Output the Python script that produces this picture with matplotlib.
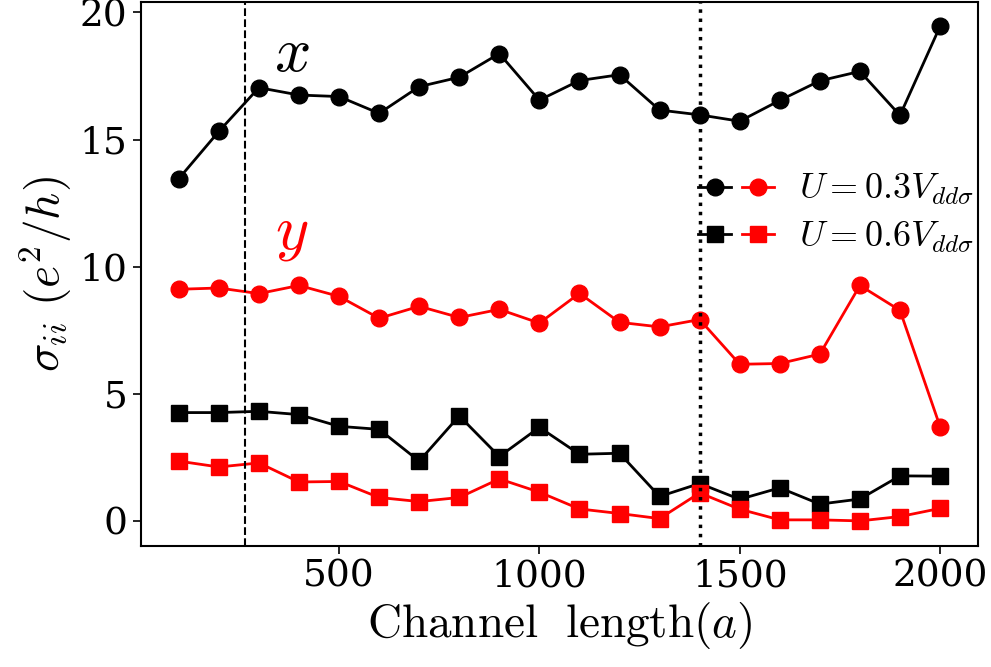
"""sigma_ii vs channel length"""

import numpy as np
import matplotlib
matplotlib.use("Agg")
import matplotlib.pyplot as plt
from matplotlib.legend_handler import HandlerTuple

plt.rcParams["mathtext.fontset"] = "cm"
plt.rcParams["font.family"] = "DejaVu Serif"

length = np.arange(100, 2001, 100)
# U = 0.3 V_dd sigma
sxx_03 = [13.46, 15.32, 17.04, 16.75, 16.69, 16.03, 17.08, 17.45, 18.38, 16.55,
          17.32, 17.55, 16.16, 15.97, 15.72, 16.54, 17.31, 17.68, 15.95, 19.45]
syy_03 = [9.11, 9.16, 8.94, 9.26, 8.83, 7.97, 8.44, 8.00, 8.32, 7.78,
          8.95, 7.81, 7.63, 7.92, 6.16, 6.19, 6.56, 9.26, 8.28, 3.71]
# U = 0.6 V_dd sigma
sxx_06 = [4.26, 4.26, 4.31, 4.18, 3.72, 3.60, 2.35, 4.13, 2.53, 3.68,
          2.62, 2.66, 0.96, 1.47, 0.85, 1.30, 0.66, 0.86, 1.77, 1.76]
syy_06 = [2.35, 2.12, 2.28, 1.53, 1.55, 0.92, 0.76, 0.92, 1.65, 1.13,
          0.47, 0.29, 0.09, 1.10, 0.46, 0.04, 0.04, 0.00, 0.17, 0.49]
x_dashed = 266
x_dotted = 1400

fig = plt.figure(figsize=(9.91, 6.67), dpi=100)
ax = fig.add_axes([0.142, 0.182, 0.845, 0.8155])

l1, = ax.plot(length, sxx_03, "o-", color="black", lw=2, ms=12)
l2, = ax.plot(length, syy_03, "o-", color="red", lw=2, ms=12)
l3, = ax.plot(length, sxx_06, "s-", color="black", lw=2, ms=12)
l4, = ax.plot(length, syy_06, "s-", color="red", lw=2, ms=12)

ax.axvline(x_dashed, color="black", ls="--", lw=1.5)
ax.axvline(x_dotted, color="black", ls=":", lw=2.5)

ax.text(382, 17.68, "$x$", fontsize=46, color="black", ha="center", va="baseline")
ax.text(382, 10.72, "$y$", fontsize=46, color="red", ha="center", va="baseline")

ax.legend([(l1, l2), (l3, l4)],
          [r"$U=0.3V_{dd\sigma}$", r"$U=0.6V_{dd\sigma}$"],
          handler_map={tuple: HandlerTuple(ndivide=None, pad=0.3)},
          loc="center right", bbox_to_anchor=(1.0, 0.61), frameon=False,
          fontsize=26, handlelength=2.1, handletextpad=0.7, labelspacing=0.35,
          borderaxespad=0.0, borderpad=0.1)

ax.set_xlabel(r"$\mathrm{Channel\ \ length}(a)$", fontsize=34)
ax.set_ylabel(r"$\sigma_{ii}\ (e^2/h)$", fontsize=34)
ax.set_xticks([500, 1000, 1500, 2000])
ax.set_yticks([0, 5, 10, 15, 20])
ax.tick_params(labelsize=27, length=6, width=1.2)
for s in ax.spines.values():
    s.set_linewidth(1.5)

fig.savefig("out.png", dpi=100)
